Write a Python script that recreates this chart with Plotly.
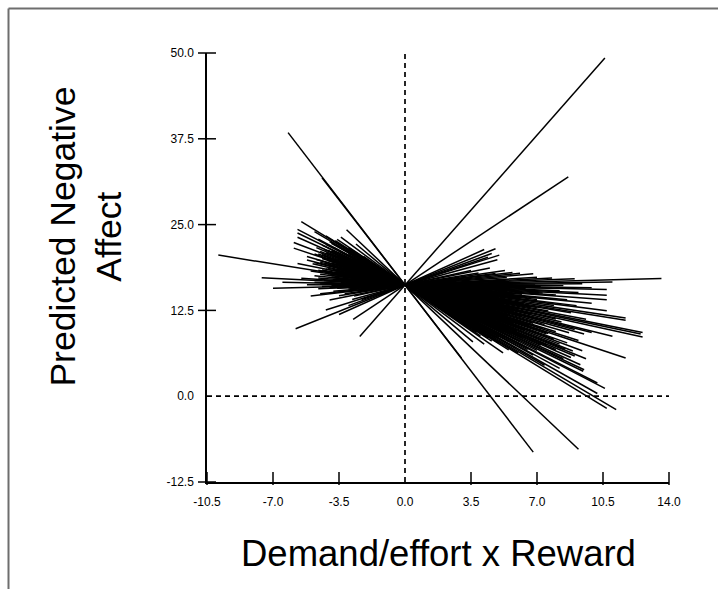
import plotly.graph_objects as go

# Common intercept at Demand/effort x Reward = 0 and per-person simple slopes,
# each drawn over that person's observed predictor range.
intercept = 16.2

slopes = [
    -3.58, -3.55, -2.60, -2.30, -2.05, -1.90,
    3.12, 1.82, 1.10, 0.87, 1.23, 1.00, 0.92, 0.75, 0.55, 0.40, 0.32, 0.28, 0.20,
    0.13, 0.07, 0.02, 0.00, -0.03, -0.06, -0.10, -0.14, -0.16, -0.20, -0.22,
    -0.25, -0.27, -0.30, -0.33, -0.35, -0.38, -0.41, -0.44, -0.46, -0.48,
    -0.50, -0.52, -0.55, -0.57, -0.60, -0.62, -0.65, -0.68, -0.70, -0.72,
    -0.75, -0.78, -0.80, -0.82, -0.85, -0.88, -0.91, -0.93, -0.95, -0.98,
    -1.00, -1.02, -1.05, -1.08, -1.10, -1.12, -1.15, -1.18, -1.20, -1.22,
    -1.25, -1.28, -1.30, -1.33, -1.36, -1.40, -1.42, -1.45, -1.48, -1.52,
    -1.55, -1.58, -1.62, -1.65, -1.68, -1.72, -1.78, -1.85,
    0.16, 0.10, 0.04, -0.01, -0.04, -0.08, -0.12, -0.18, 0.24, 0.35, 0.45, 0.60,
    -0.24, -0.31, -0.36, -0.43, -0.53, -0.58, -0.66, -0.74, -0.84, -0.90,
    -0.97, -1.04, -1.13, -1.21, -1.27, -1.35, -1.44, -1.50, -1.60, -1.70, -1.82,
    -0.15, -0.28, -0.40, -0.47, -0.56, -0.63, -0.71, -0.79, -0.87, -0.94,
    -1.01, -1.09, -1.16, -1.24, -1.32, -1.41, -1.56, -1.75, 0.05, 0.12, -0.06,
]

x_low = [
    -6.2, -4.4, -3.1, -2.6, -3.4, -2.2,
    -2.4, -2.75, -5.8, -4.2, -3.5, -3.0, -2.3, -2.8, -4.0, -3.2, -5.0, -4.5, -3.0,
    -3.6, -7.0, -3.9, -2.8, -4.5, -6.5, -3.4, -7.6, -4.2, -3.8, -4.6,
    -3.0, -4.0, -3.9, -2.6, -4.5, -3.3, -5.0, -9.9, -3.7, -2.9,
    -4.4, -3.6, -5.7, -3.1, -4.1, -2.8, -3.6, -4.8, -5.2, -3.3,
    -4.2, -2.7, -5.2, -3.9, -3.0, -4.4, -5.9, -2.5, -3.4, -4.6,
    -3.8, -2.9, -5.9, -3.5, -3.3, -4.2, -4.0, -2.6, -3.6, -5.7,
    -2.8, -3.9, -3.2, -5.7, -2.4, -3.5, -5.7, -4.6, -3.0, -2.2,
    -3.0, -4.0, -4.8, -2.7, -5.5, -3.3, -2.9, -3.6,
    -2.9, -4.0, -3.3, -5.2, -2.6, -4.8, -3.1, -5.5, -3.8, -2.5, -3.5, -2.7,
    -3.5, -2.4, -4.1, -3.0, -2.6, -3.8, -2.3, -4.5, -3.6, -2.2,
    -4.1, -3.1, -2.5, -4.3, -3.3, -2.8, -3.8, -2.5, -3.1, -4.2, -3.0,
    -4.3, -4.8, -4.0, -4.6, -4.2, -4.9, -4.0, -4.7, -4.1, -4.8,
    -4.4, -4.5, -4.7, -4.1, -4.4, -4.2, -3.9, -3.7, -4.4, -4.6, -3.9,
]

x_high = [
    6.8, 3.0, 9.2, 3.6, 4.2, 5.2,
    10.6, 8.66, 4.8, 5.0, 4.2, 4.6, 4.4, 4.9, 4.5, 5.3, 5.7, 6.1, 5.4,
    7.8, 13.6, 9.4, 6.9, 7.2, 10.7, 8.2, 10.7, 7.3, 10.7, 6.2,
    8.6, 9.9, 7.0, 9.1, 10.7, 7.9, 11.7, 11.7, 8.8, 6.6,
    7.6, 9.6, 12.6, 12.5, 12.6, 8.0, 8.3, 11.0, 9.9, 9.0,
    9.5, 7.4, 8.7, 6.8, 8.0, 9.2, 11.7, 7.6, 7.5, 8.6,
    7.9, 9.4, 8.2, 8.9, 8.5, 9.6, 9.0, 8.0, 8.8, 7.2,
    9.3, 8.4, 9.5, 9.45, 7.0, 10.2, 10.6, 6.5, 8.2, 5.0,
    10.2, 7.4, 11.2, 6.0, 10.7, 5.5, 4.6, 4.0,
    7.0, 9.0, 11.0, 8.4, 9.9, 6.4, 9.2, 8.0, 6.8, 4.8, 3.9, 3.5,
    5.5, 6.0, 5.0, 6.3, 5.2, 6.0, 5.8, 6.2, 5.4, 6.6,
    5.7, 6.3, 5.9, 6.4, 5.6, 6.1, 5.3, 6.8, 4.8, 5.0, 3.8,
    5.8, 6.5, 5.6, 7.0, 5.9, 6.7, 7.1, 5.5, 7.3, 6.0,
    6.9, 5.8, 7.5, 6.2, 5.2, 6.6, 5.9, 4.4, 6.1, 5.2, 7.8,
]

x_ticks = [-10.5, -7.0, -3.5, 0.0, 3.5, 7.0, 10.5, 14.0]
y_ticks = [-12.5, 0.0, 12.5, 25.0, 37.5, 50.0]
x_range = [-10.5, 14.0]
y_range = [-12.5, 50.0]

x_title = "Demand/effort x Reward"
y_title = "Predicted Negative<br>Affect"

FONT = "Liberation Sans, Arial, sans-serif"
W, H = 718, 589
M_L, M_R, M_T, M_B = 207, 49, 53, 107
PLOT_W = W - M_L - M_R
PLOT_H = H - M_T - M_B

# One trace holding every simple-slope segment, separated by gaps.
xs, ys = [], []
for b, lo, hi in zip(slopes, x_low, x_high):
    xs += [lo, hi, None]
    ys += [intercept + b * lo, intercept + b * hi, None]

fig = go.Figure()
fig.add_trace(go.Scatter(
    x=xs, y=ys, mode="lines",
    line=dict(color="black", width=1.5),
    hoverinfo="skip", connectgaps=False,
))

shapes = []
# Dashed reference lines at zero on both axes
shapes.append(dict(type="line", xref="x", yref="y domain", x0=0, x1=0, y0=0, y1=1,
                   line=dict(color="black", width=1.7, dash="5px,4px"), layer="below"))
shapes.append(dict(type="line", xref="x domain", yref="y", x0=0, x1=1, y0=0, y1=0,
                   line=dict(color="black", width=1.7, dash="5px,4px"), layer="below"))


def to_frac(v, rng):
    return (v - rng[0]) / (rng[1] - rng[0])


# Tick marks: x ticks mostly inside, y ticks crossing the axis; none at zero
for v in x_ticks:
    if v == 0:
        continue
    fxv = to_frac(v, x_range)
    shapes.append(dict(type="line", xref="paper", yref="paper", x0=fxv, x1=fxv,
                       y0=-3 / PLOT_H, y1=10 / PLOT_H,
                       line=dict(color="black", width=1.5)))
for v in y_ticks:
    if v == 0:
        continue
    fyv = to_frac(v, y_range)
    shapes.append(dict(type="line", xref="paper", yref="paper", y0=fyv, y1=fyv,
                       x0=-9 / PLOT_W, x1=9 / PLOT_W,
                       line=dict(color="black", width=1.5)))

# Outer frame along the top and left of the canvas
fx = (8.5 - M_L) / PLOT_W
fy = (H - M_B - 8.5) / PLOT_H
shapes.append(dict(type="line", xref="paper", yref="paper",
                   x0=fx, x1=(W + 5 - M_L) / PLOT_W, y0=fy, y1=fy,
                   line=dict(color="#6e6e6e", width=2)))
shapes.append(dict(type="line", xref="paper", yref="paper",
                   x0=fx, x1=fx, y0=-(M_B + 5) / PLOT_H, y1=fy,
                   line=dict(color="#6e6e6e", width=2)))

annotations = [
    dict(text=x_title, xref="paper", yref="paper", x=0.5, y=-0.166,
         xanchor="center", yanchor="middle", showarrow=False,
         font=dict(family=FONT, size=36.5, color="black")),
    dict(text=y_title, xref="paper", yref="paper", x=-0.262, y=0.572,
         xanchor="center", yanchor="middle", showarrow=False, textangle=-90,
         font=dict(family=FONT, size=35.5, color="black")),
]

fig.update_layout(
    width=W, height=H,
    margin=dict(l=M_L, r=M_R, t=M_T, b=M_B),
    paper_bgcolor="white", plot_bgcolor="white",
    showlegend=False,
    shapes=shapes,
    annotations=annotations,
    font=dict(family=FONT, color="black"),
)
fig.update_xaxes(
    range=x_range, showgrid=False, zeroline=False,
    showline=True, linecolor="black", linewidth=1.5,
    ticks="", tickvals=x_ticks, ticktext=[f"{v:.1f}" for v in x_ticks],
    tickfont=dict(family=FONT, size=12, color="black"), ticklabelstandoff=8,
)
fig.update_yaxes(
    range=y_range, showgrid=False, zeroline=False,
    showline=True, linecolor="black", linewidth=1.5,
    ticks="", tickvals=y_ticks, ticktext=[f"{v:.1f}" for v in y_ticks],
    tickfont=dict(family=FONT, size=12, color="black"), ticklabelstandoff=9,
)

fig.write_html("out.html")
